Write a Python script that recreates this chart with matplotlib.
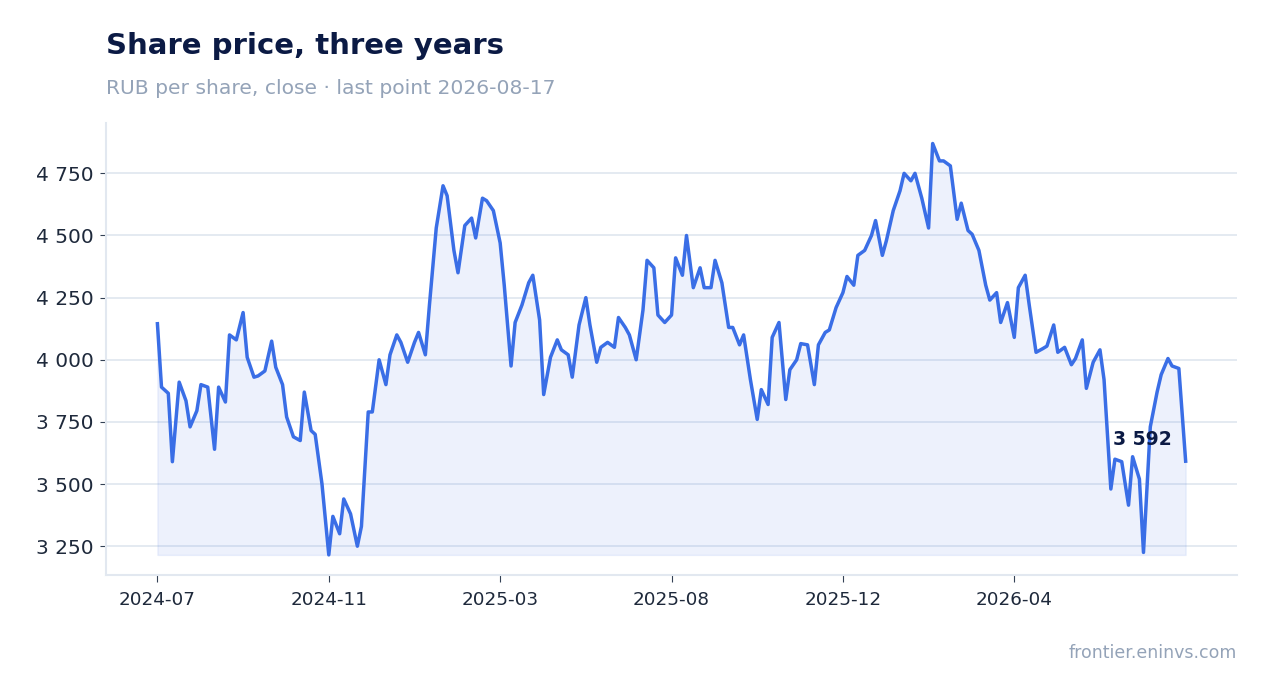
import numpy as np
import pandas as pd
import matplotlib
matplotlib.use("Agg")
import matplotlib.pyplot as plt
from matplotlib.ticker import FuncFormatter

# business days, every third session
start_date = "2024-07-22"
end_date = "2026-08-17"
step = 3
tick_every = 90  # sessions between x tick labels

price = [
    4145, 3890, 3865, 3590, 3910, 3835, 3730, 3795, 3900, 3890,
    3640, 3890, 3830, 4100, 4080, 4190, 4010, 3930, 3935, 3955,
    4075, 3970, 3900, 3770, 3690, 3675, 3870, 3715, 3700, 3500,
    3215, 3370, 3300, 3440, 3380, 3250, 3330, 3790, 3790, 4000,
    3900, 4020, 4100, 4070, 3990, 4070, 4110, 4020, 4220, 4530,
    4700, 4660, 4440, 4350, 4540, 4570, 4490, 4650, 4640, 4600,
    4470, 4300, 3975, 4150, 4220, 4310, 4340, 4160, 3860, 4010,
    4080, 4040, 4020, 3930, 4140, 4250, 4140, 3990, 4050, 4070,
    4050, 4170, 4130, 4100, 4000, 4200, 4400, 4370, 4180, 4150,
    4180, 4410, 4340, 4500, 4290, 4370, 4290, 4290, 4400, 4310,
    4130, 4130, 4060, 4100, 3920, 3760, 3880, 3820, 4090, 4150,
    3840, 3960, 4000, 4065, 4060, 3900, 4060, 4110, 4120, 4210,
    4270, 4335, 4300, 4420, 4440, 4500, 4560, 4420, 4480, 4600,
    4680, 4750, 4720, 4750, 4650, 4530, 4870, 4800, 4800, 4780,
    4565, 4630, 4520, 4505, 4440, 4300, 4240, 4270, 4150, 4230,
    4090, 4290, 4340, 4220, 4030, 4045, 4055, 4140, 4030, 4050,
    3980, 4005, 4080, 3885, 3990, 4040, 3920, 3480, 3600, 3590,
    3415, 3610, 3520, 3225, 3730, 3870, 3940, 4005, 3975, 3965,
    3592,
]

title = "Share price, three years"
subtitle = "RUB per share, close \u00b7 last point 2026-08-17"
source = "frontier.eninvs.com"

LINE = "#3a6ee6"
NAVY = "#0b1a44"
MUTED = "#94a3b8"
GRID = "#e2e8f0"
TEXT = "#1e293b"


def fmt_thousands(v, pos=None):
    return f"{v:,.0f}".replace(",", " ")


sessions = pd.bdate_range(start_date, end_date)
dates = sessions[::step]
y = np.array(price, dtype=float)

fig = plt.figure(figsize=(12.68, 6.93), dpi=100)
ax = fig.add_axes([0.0836, 0.1696, 0.892, 0.653])

ax.fill_between(dates, y, y.min(), color=LINE, alpha=0.09, linewidth=1)
ax.plot(dates, y, color=LINE, lw=2.5, solid_joinstyle="round", zorder=3)

ax.annotate(fmt_thousands(y[-1]), (dates[-1], y[-1]),
            xytext=(-10, 11.5), textcoords="offset points", ha="right", va="baseline",
            fontsize=13.5, fontweight="bold", color=NAVY)

ax.set_yticks(np.arange(3250, 4751, 250))
ax.yaxis.set_major_formatter(FuncFormatter(fmt_thousands))
xt = sessions[::tick_every][:6]
ax.set_xticks(xt)
ax.set_xticklabels([d.strftime("%Y-%m") for d in xt])

ax.grid(axis="y", color=GRID, lw=1.3)
ax.set_axisbelow(True)
for s in ("top", "right"):
    ax.spines[s].set_visible(False)
for s in ("left", "bottom"):
    ax.spines[s].set_color(GRID)
    ax.spines[s].set_linewidth(1.5)
ax.tick_params(axis="y", labelsize=14.5, labelcolor=TEXT, length=4, pad=5)
ax.tick_params(axis="x", labelsize=13.2, labelcolor=TEXT, length=5, pad=6)
ax.tick_params(color="#334155", which="both")

fig.text(106 / 1268, 1 - 53.5 / 693, title, fontsize=21, fontweight="bold", color=NAVY, va="baseline")
fig.text(106 / 1268, 1 - 94 / 693, subtitle, fontsize=14.6, color=MUTED, va="baseline")
fig.text(1237 / 1268, 1 - 658 / 693, source, fontsize=12.5, color=MUTED, ha="right", va="baseline")

fig.savefig("out.png", dpi=100)
